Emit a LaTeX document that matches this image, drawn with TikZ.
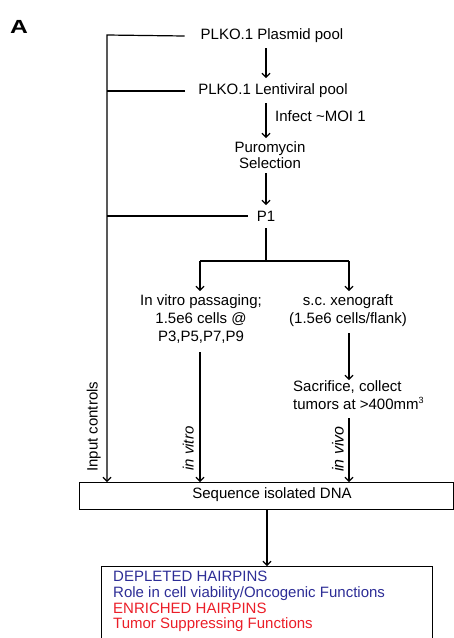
\documentclass[tikz,border=0pt]{standalone}
\usepackage{fontspec}
\setmainfont{Liberation Sans}
\usetikzlibrary{arrows.meta}
\definecolor{hblue}{RGB}{45,45,150}
\definecolor{hred}{RGB}{235,30,40}
\tikzset{
  every node/.style={font=\fontsize{15}{18}\selectfont, inner sep=0pt},
  ln/.style={line width=1.2pt, black},
  arr/.style={ln, -{Straight Barb[length=4pt,width=8pt,line width=1.1pt]}},
  boxnode/.style={draw, line width=1.2pt},
  vlab/.style={rotate=90, anchor=south west},
}
\begin{document}
\begin{tikzpicture}[x=1pt,y=-1pt]
\useasboundingbox (0,0) rectangle (454,638);
\clip (0,0) rectangle (454,638);
\node[font=\fontsize{19}{22}\selectfont\bfseries, xscale=1.3, transform shape] (A) at (19,26.5) {A};

\node (plasmid) at (272,36) {PLKO.1 Plasmid pool};
\node (lenti) at (273,91) {PLKO.1 Lentiviral pool};
\node (puro) [align=center, font=\fontsize{15}{16}\selectfont] at (270,155) {Puromycin\\Selection};
\node (infect) [anchor=west] at (275,116) {Infect \textasciitilde MOI 1};
\node (p1) at (266,216) {P1};

\node (invitro) [align=center, anchor=north] at (201,294) {In vitro passaging;\\1.5e6 cells @\\P3,P5,P7,P9};
\node (xeno) [align=center, anchor=north] at (348,294) {s.c.\ xenograft\\(1.5e6 cells/flank)};
\node (sacr) [align=left, anchor=north west] at (293,380) {Sacrifice, collect\\tumors at >400mm\textsuperscript{\fontsize{9}{9}\selectfont 3}};

\node (seq) [boxnode, minimum width=374, minimum height=27, anchor=north west] at (79,482) {};
\node (seqtext) at (272,495) {Sequence isolated DNA};

\node (res) [boxnode, anchor=north west, minimum width=331, minimum height=90] at (101,566) {};
\node (restext) [anchor=north west, align=left, font=\fontsize{15}{15.7}\selectfont] at (113,571)
  {\textcolor{hblue}{DEPLETED HAIRPINS}\\
   \textcolor{hblue}{Role in cell viability/Oncogenic Functions}\\
   \textcolor{hred}{ENRICHED HAIRPINS}\\
   \textcolor{hred}{Tumor Suppressing Functions}};

% coordinates
\coordinate (L) at (107,35);
\coordinate (split) at (266,261);
\coordinate (lv) at (200,261);
\coordinate (rv) at (349,261);
\coordinate (bot) at (267,509);

% left input-control line
\draw[arr] ([xshift=-16pt]plasmid.west) -- (L) -- (L |- seq.north);
\draw[ln] ([xshift=-13pt]lenti.west) -- (L |- lenti);
\draw[ln] ([xshift=-9pt]p1.west) -- (L |- p1);

% main chain
\draw[arr] (266,48) -- (266,78);
\draw[arr] (266,103) -- (266,138);
\draw[arr] (266,173) -- (266,205);
\draw[ln] (266,228) -- (split);
\draw[ln] (lv) -- (rv);
\draw[arr] (lv) -- (200,291);
\draw[arr] (rv) -- (349,291);
\draw[arr] (200,352) -- (lv |- seq.north);
\draw[arr] (349,333) -- (349,380);
\draw[arr] (349,418) -- (rv |- seq.north);
\draw[arr] (bot) -- (bot |- res.north);

% rotated labels
\node[vlab] (inputlab) at (101,472) {Input controls};
\node[vlab] (vitrolab) at (194,471) {\itshape in vitro};
\node[vlab, font=\fontsize{16}{18}\selectfont] (vivolab) at (344,472) {\itshape in vivo};
\end{tikzpicture}
\end{document}
